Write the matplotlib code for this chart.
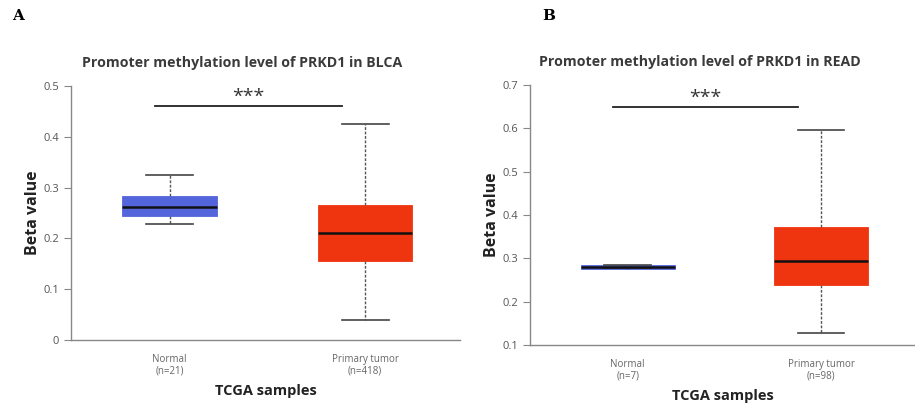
import matplotlib.pyplot as plt

# data
groups = ["Normal", "Primary tumor"]
blca_n = [21, 418]
blca_med = [0.262, 0.210]
blca_q1 = [0.245, 0.155]
blca_q3 = [0.283, 0.265]
blca_lo = [0.228, 0.040]
blca_hi = [0.325, 0.425]

read_n = [7, 98]
read_med = [0.280, 0.293]
read_q1 = [0.276, 0.238]
read_q3 = [0.285, 0.372]
read_lo = [0.277, 0.128]
read_hi = [0.284, 0.597]

box_colors = ["#5465dc", "#ef3510"]

plt.rcParams['font.family'] = ['Open Sans', 'DejaVu Sans']


def draw_panel(ax, cancer, ns, med, q1, q3, lo, hi, ylim, yticks, sig_y):
    stats = []
    for i in range(len(groups)):
        stats.append({"med": med[i], "q1": q1[i], "q3": q3[i],
                      "whislo": lo[i], "whishi": hi[i], "fliers": []})
    bp = ax.bxp(stats, positions=[1, 2], widths=0.485, patch_artist=True,
                showfliers=False,
                boxprops=dict(linewidth=0.6),
                medianprops=dict(color="#111111", linewidth=1.8),
                whiskerprops=dict(color="#555555", linewidth=1.0, linestyle=(0, (2, 1.2))),
                capprops=dict(color="#444444", linewidth=1.2),
                capwidths=0.24)
    for patch, c in zip(bp["boxes"], box_colors):
        patch.set_facecolor(c)
        patch.set_edgecolor(c)

    ax.set_xlim(0.495, 2.485)
    ax.set_ylim(*ylim)
    ax.set_yticks(yticks)
    ax.set_yticklabels([("0" if t == 0 else f"{t:.1f}") for t in yticks])
    ax.set_xticks([1, 2])
    ax.set_xticklabels([f"{g}\n(n={n})" for g, n in zip(groups, ns)],
                       fontsize=7, color="#666666", linespacing=1.1)
    ax.tick_params(axis="x", length=0, pad=10)
    ax.tick_params(axis="y", colors="#888888", labelcolor="#555555",
                   labelsize=8, length=5, width=0.8)
    for s in ["top", "right"]:
        ax.spines[s].set_visible(False)
    for s in ["left", "bottom"]:
        ax.spines[s].set_color("#888888")
        ax.spines[s].set_linewidth(1.0)

    ax.set_ylabel("Beta value", fontsize=11.5, fontweight="bold", color="#222222", labelpad=2)
    ax.set_xlabel("TCGA samples", fontsize=10.5, fontweight="bold", color="#222222", labelpad=5)
    ax.set_title(f"Promoter methylation level of PRKD1 in {cancer}",
                 fontsize=10.2, fontweight="bold", color="#3a3a3a", pad=14, x=0.44)

    ax.plot([0.925, 1.88], [sig_y, sig_y], color="#222222", linewidth=1.3, clip_on=False)
    ax.text(1.4, sig_y, "***", ha="center", va="bottom", fontsize=14,
            color="#333333")


fig = plt.figure(figsize=(9.15, 4.08), dpi=100)
ax1 = fig.add_axes([0.0776, 0.1667, 0.425, 0.6225])
ax2 = fig.add_axes([0.5792, 0.1544, 0.4208, 0.6373])

draw_panel(ax1, "BLCA", blca_n, blca_med, blca_q1, blca_q3, blca_lo, blca_hi,
           (0, 0.5), [0, 0.1, 0.2, 0.3, 0.4, 0.5], 0.46)
draw_panel(ax2, "READ", read_n, read_med, read_q1, read_q3, read_lo, read_hi,
           (0.1, 0.7), [0.1, 0.2, 0.3, 0.4, 0.5, 0.6, 0.7], 0.649)

fig.text(12 / 915, 1 - 16 / 408, "A", family="DejaVu Serif", fontweight="bold",
         fontsize=11, va="center", ha="left")
fig.text(542 / 915, 1 - 16 / 408, "B", family="DejaVu Serif", fontweight="bold",
         fontsize=11, va="center", ha="left")

fig.savefig("out.png", dpi=100)
